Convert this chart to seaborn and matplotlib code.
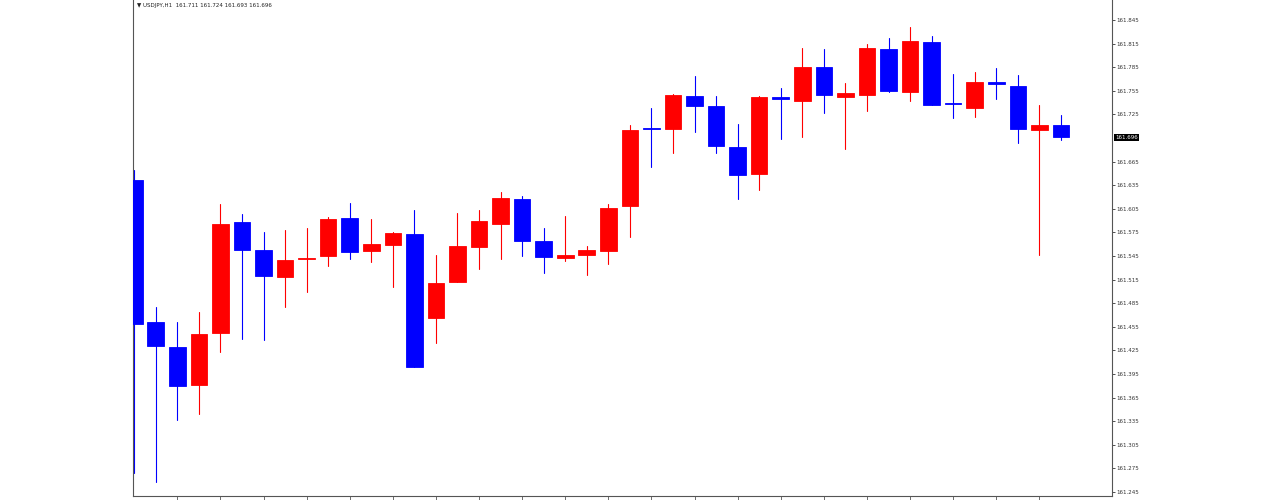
import numpy as np
import pandas as pd
import matplotlib
matplotlib.use("Agg")
import matplotlib.pyplot as plt
import seaborn as sns

# ---- data (USDJPY H1) ----
opens  = [161.642, 161.461, 161.429, 161.381, 161.447, 161.588, 161.553, 161.518, 161.541, 161.545,
          161.593, 161.551, 161.559, 161.573, 161.466, 161.512, 161.556, 161.586, 161.617, 161.564,
          161.543, 161.546, 161.551, 161.609, 161.708, 161.706, 161.748, 161.736, 161.684, 161.649,
          161.747, 161.742, 161.785, 161.747, 161.750, 161.808, 161.753, 161.817, 161.739, 161.733,
          161.766, 161.761, 161.705, 161.711]
highs  = [161.654, 161.480, 161.461, 161.474, 161.611, 161.598, 161.576, 161.578, 161.581, 161.595,
          161.612, 161.592, 161.576, 161.603, 161.546, 161.600, 161.603, 161.626, 161.621, 161.581,
          161.596, 161.558, 161.611, 161.712, 161.733, 161.751, 161.774, 161.748, 161.713, 161.748,
          161.759, 161.809, 161.808, 161.765, 161.815, 161.822, 161.836, 161.825, 161.776, 161.779,
          161.784, 161.775, 161.737, 161.724]
lows   = [161.269, 161.258, 161.337, 161.344, 161.423, 161.440, 161.438, 161.480, 161.499, 161.532,
          161.541, 161.537, 161.506, 161.404, 161.434, 161.512, 161.528, 161.541, 161.545, 161.523,
          161.539, 161.521, 161.535, 161.569, 161.658, 161.676, 161.703, 161.676, 161.617, 161.629,
          161.694, 161.696, 161.727, 161.681, 161.729, 161.753, 161.742, 161.737, 161.720, 161.722,
          161.745, 161.689, 161.546, 161.693]
closes = [161.459, 161.431, 161.380, 161.446, 161.586, 161.553, 161.520, 161.540, 161.543, 161.592,
          161.550, 161.560, 161.574, 161.404, 161.511, 161.558, 161.590, 161.619, 161.564, 161.544,
          161.546, 161.553, 161.606, 161.705, 161.706, 161.750, 161.736, 161.685, 161.648, 161.747,
          161.745, 161.785, 161.750, 161.752, 161.809, 161.755, 161.818, 161.737, 161.738, 161.766,
          161.764, 161.706, 161.712, 161.696]
y_ticks = [161.845, 161.815, 161.785, 161.755, 161.725, 161.665, 161.635, 161.605, 161.575,
           161.545, 161.515, 161.485, 161.455, 161.425, 161.395, 161.365, 161.335, 161.305,
           161.275, 161.245]
last_price = 161.696
title = "\u25bc USDJPY,H1  161.711 161.724 161.693 161.696"

UP, DOWN = "#ff0000", "#0000ff"

sns.set_theme(style="white")
plt.rcParams['font.family'] = ['DejaVu Sans']

n = len(opens)
idx = np.arange(n)
direction = ["up" if c >= o else "down" for o, c in zip(opens, closes)]

wick_df = pd.DataFrame({
    "idx": np.concatenate([idx, idx]),
    "price": np.concatenate([lows, highs]),
    "dir": direction + direction,
})

fig = plt.figure(figsize=(12.74, 5.0), dpi=100)
ax = fig.add_axes([133/1274, 4/500, (1112-133)/1274, 496/500])

sns.lineplot(data=wick_df, x="idx", y="price", hue="dir", units="idx",
             estimator=None, sort=False, palette={"up": UP, "down": DOWN},
             linewidth=0.8, legend=False, ax=ax, zorder=2)

colors = [UP if d == "up" else DOWN for d in direction]
ax.bar(idx, np.array(closes) - np.array(opens), bottom=opens, width=0.77,
       color=colors, edgecolor=colors, linewidth=0.6, zorder=3)

ax.set_xlim(-0.056, 45.37)
ax.set_ylim(161.2399, 161.8704)
ax.set_xlabel("")
ax.set_ylabel("")

ax.yaxis.tick_right()
ax.set_yticks(y_ticks)
ax.set_yticklabels([f"{v:.3f}" for v in y_ticks])
ax.set_xticks(np.arange(2, n, 2))
ax.set_xticklabels([])
ax.tick_params(axis="y", which="both", right=True, left=False, direction="out",
               length=2, width=0.6, pad=1, labelsize=4, colors="#333333")
ax.tick_params(axis="x", bottom=True, direction="out", length=3, width=0.6,
               colors="#555555")

for side in ["left", "right", "bottom"]:
    ax.spines[side].set_visible(True)
    ax.spines[side].set_color("#555555")
    ax.spines[side].set_linewidth(0.8)
ax.spines["top"].set_visible(False)

ax.text(1.003, last_price, f"{last_price:.3f}", transform=ax.get_yaxis_transform(),
        ha="left", va="center", fontsize=4, color="white",
        bbox=dict(facecolor="black", edgecolor="none", pad=0.8), clip_on=False)

fig.text(137/1274, 1 - 5/500, title, ha="left", va="center", fontsize=4, color="#222222")

fig.savefig("out.png", dpi=100, facecolor="white")
